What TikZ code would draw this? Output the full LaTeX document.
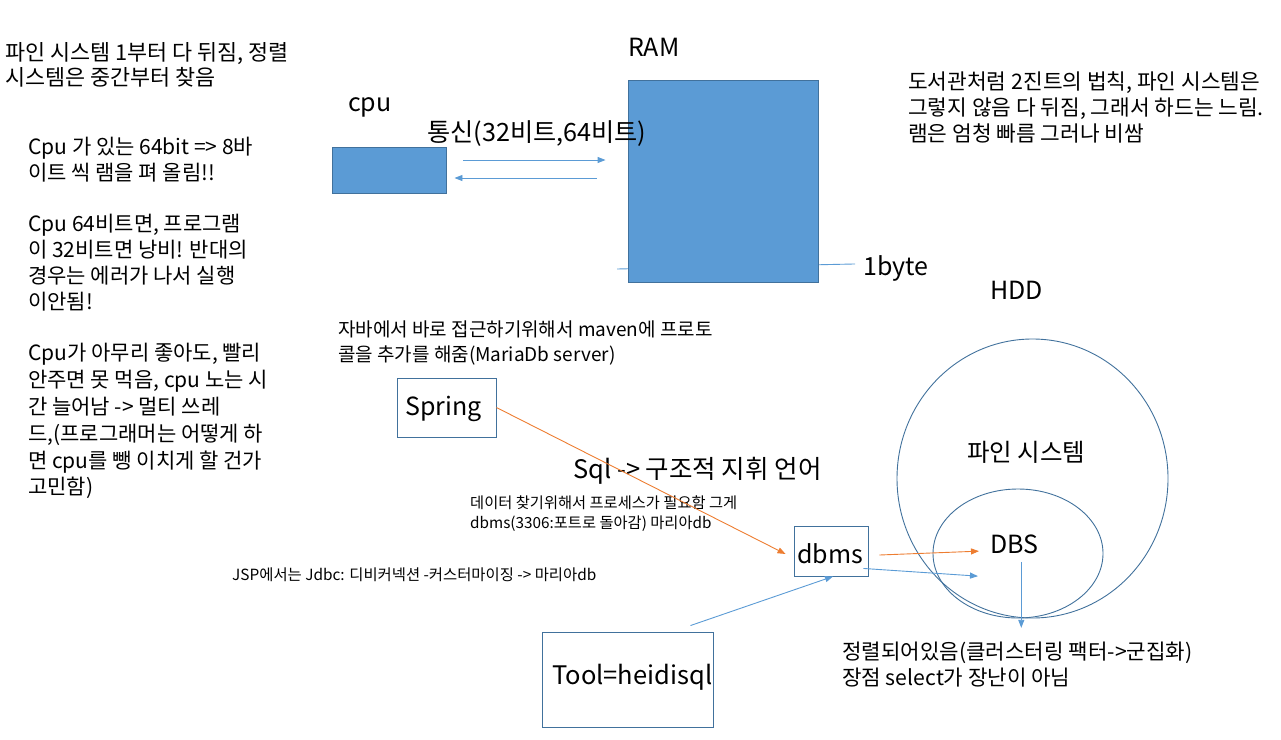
\documentclass[tikz,border=0pt]{standalone}
\usepackage{fontspec}
\setmainfont{Noto Sans CJK KR}
\usetikzlibrary{arrows.meta,calc,shapes.geometric}
\definecolor{ramblue}{HTML}{5B9BD5}
\definecolor{boxline}{HTML}{41719C}
\definecolor{arrorange}{HTML}{ED7D31}
\newcommand\myfs[1]{\fontsize{#1}{#1}\selectfont}
\begin{document}
\begin{tikzpicture}[x=1pt,y=-1pt,
  txt/.style={inner sep=0pt,anchor=base west},
  bluebox/.style={draw=boxline,fill=ramblue,line width=0.9pt,inner sep=0pt},
  plainbox/.style={draw=boxline,line width=0.9pt,inner sep=0pt},
  barrow/.style={draw=ramblue,line width=0.9pt,-{Triangle[length=8pt,width=6pt]}},
  oarrow/.style={draw=arrorange,line width=0.9pt,-{Triangle[length=8pt,width=6pt]}},
  ring/.style={draw=boxline,line width=0.9pt}]
\useasboundingbox (0,0) rectangle (1281,739);

% top-left notes
\node[txt,font=\myfs{21.8}] (tl1) at (5,60) {파인 시스템 1부터 다 뒤짐, 정렬};
\node[txt,font=\myfs{21.8}] (tl2) at (5,85) {시스템은 중간부터 찾음};

\node[txt,font=\myfs{21}] (b1) at (28,154) {Cpu 가 있는 64bit => 8바};
\node[txt,font=\myfs{21}] (b2) at (28,180) {이트 씩 램을 펴 올림!!};
\node[txt,font=\myfs{21}] (b3) at (28,231.7) {Cpu 64비트면, 프로그램};
\node[txt,font=\myfs{21}] (b4) at (28,257.6) {이 32비트면 낭비! 반대의};
\node[txt,font=\myfs{21}] (b5) at (28,283.5) {경우는 에러가 나서 실행};
\node[txt,font=\myfs{21}] (b6) at (28,309.4) {이안됨!};

\node[txt,font=\myfs{21}] (c1) at (28,360) {Cpu가 아무리 좋아도, 빨리};
\node[txt,font=\myfs{21}] (c2) at (28,387) {안주면 못 먹음, cpu 노는 시};
\node[txt,font=\myfs{21}] (c3) at (28,414) {간 늘어남 -> 멀티 쓰레};
\node[txt,font=\myfs{21}] (c4) at (28,441) {드,(프로그래머는 어떻게 하};
\node[txt,font=\myfs{21}] (c5) at (28,468) {면 cpu를 뺑 이치게 할 건가};
\node[txt,font=\myfs{21}] (c6) at (28,494.5) {고민함)};

% top-right notes
\node[txt,font=\myfs{21.4}] (r1) at (908,89) {도서관처럼 2진트의 법칙, 파인 시스템은};
\node[txt,font=\myfs{21.4}] (r2) at (908,115) {그렇지 않음 다 뒤짐, 그래서 하드는 느림.};
\node[txt,font=\myfs{21.4}] (r3) at (908,141) {램은 엄청 빠름 그러나 비쌈};

% cpu / RAM
\node[txt,font=\myfs{25}] (cpulbl) at (348,111) {cpu};
\node[bluebox,minimum width=114pt,minimum height=46pt] (cpu) at (389,170) {};
\node[txt,font=\myfs{25}] (ramlbl) at (628,56.7) {RAM};
\coordinate (byteL) at (617,269);
\node[txt,font=\myfs{25}] (byte) at (863,275) {1byte};
\draw[draw=ramblue,line width=0.9pt] (byteL) -- ($(byte.west)+(-8,-4)$);
\node[bluebox,minimum width=190pt,minimum height=202pt] (ram) at (723,181) {};
\node[txt,font=\myfs{25.2}] (comm) at (427,141) {통신(32비트,64비트)};
\draw[barrow] ($(cpu.east)+(17,-10)$) -- ($(ram.west)+(-22,-21)$);
\draw[barrow] ($(ram.west)+(-31,-3)$) -- ($(cpu.east)+(8,8)$);

% java / spring
\node[txt,font=\myfs{19}] (j1) at (338,336.5) {자바에서 바로 접근하기위해서 maven에 프로토};
\node[txt,font=\myfs{19}] (j2) at (338,361.5) {콜을 추가를 해줌(MariaDb server)};
\node[plainbox,minimum width=99pt,minimum height=59pt] (spring) at (446.5,407.5) {};
\node[txt,font=\myfs{25}] (springlbl) at (405,415) {Spring};

\node[txt,font=\myfs{25.5}] (sql) at (573,478) {Sql -> 구조적 지휘 언어};
\node[txt,font=\myfs{15.3}] (d1) at (470,508) {데이터 찾기위해서 프로세스가 필요함 그게};
\node[txt,font=\myfs{15.3}] (d2) at (470,528.5) {dbms(3306:포트로 돌아감) 마리아db};
\node[txt,font=\myfs{15.4}] (jsp) at (232,580) {JSP에서는 Jdbc: 디비커넥션 -커스터마이징 -> 마리아db};

% dbms
\node[plainbox,minimum width=74pt,minimum height=50pt] (dbms) at (831,551) {};
\node[txt,font=\myfs{25}] (dbmslbl) at (797,563) {dbms};

% tool
\node[plainbox,minimum width=171pt,minimum height=95pt] (tool) at (627.5,679.5) {};
\node[txt,font=\myfs{25.5}] (toollbl) at (552,684) {Tool=heidisql};

% HDD
\node[txt,font=\myfs{25}] (hdd) at (990,299) {HDD};
\node[ring,ellipse,minimum width=271pt,minimum height=279pt,inner sep=0pt] (fs) at (1032.5,478.5) {};
\node[ring,ellipse,minimum width=170pt,minimum height=129pt,inner sep=0pt] (dbsring) at (1018,553.5) {};
\node[txt,font=\myfs{24.5}] (fslbl) at (967,461) {파인 시스템};
\node[txt,font=\myfs{25}] (dbs) at (990,553.3) {DBS};
\node[txt,font=\myfs{21.2}] (e1) at (842,659) {정렬되어있음(클러스터링 팩터->군집화)};
\node[txt,font=\myfs{21.2}] (e2) at (842,685) {장점 select가 장난이 아님};

% connectors
\draw[oarrow] (spring.east) -- ($(dbms.west)+(-8,3)$);
\draw[oarrow] ($(dbms.east)+(11,4)$) -- ($(dbs.west)+(-11,7)$);
\draw[barrow] ($(dbms.south east)+(-5,-8)$) -- ($(dbs.west)+(-12,32)$);
\draw[barrow] ($(tool.north east)+(-23,-6)$) -- ($(dbms.south)+(2,0)$);
\draw[barrow] ($(dbs.south)+(7,8)$) -- ($(dbs.south)+(7,74)$);
\end{tikzpicture}
\end{document}
